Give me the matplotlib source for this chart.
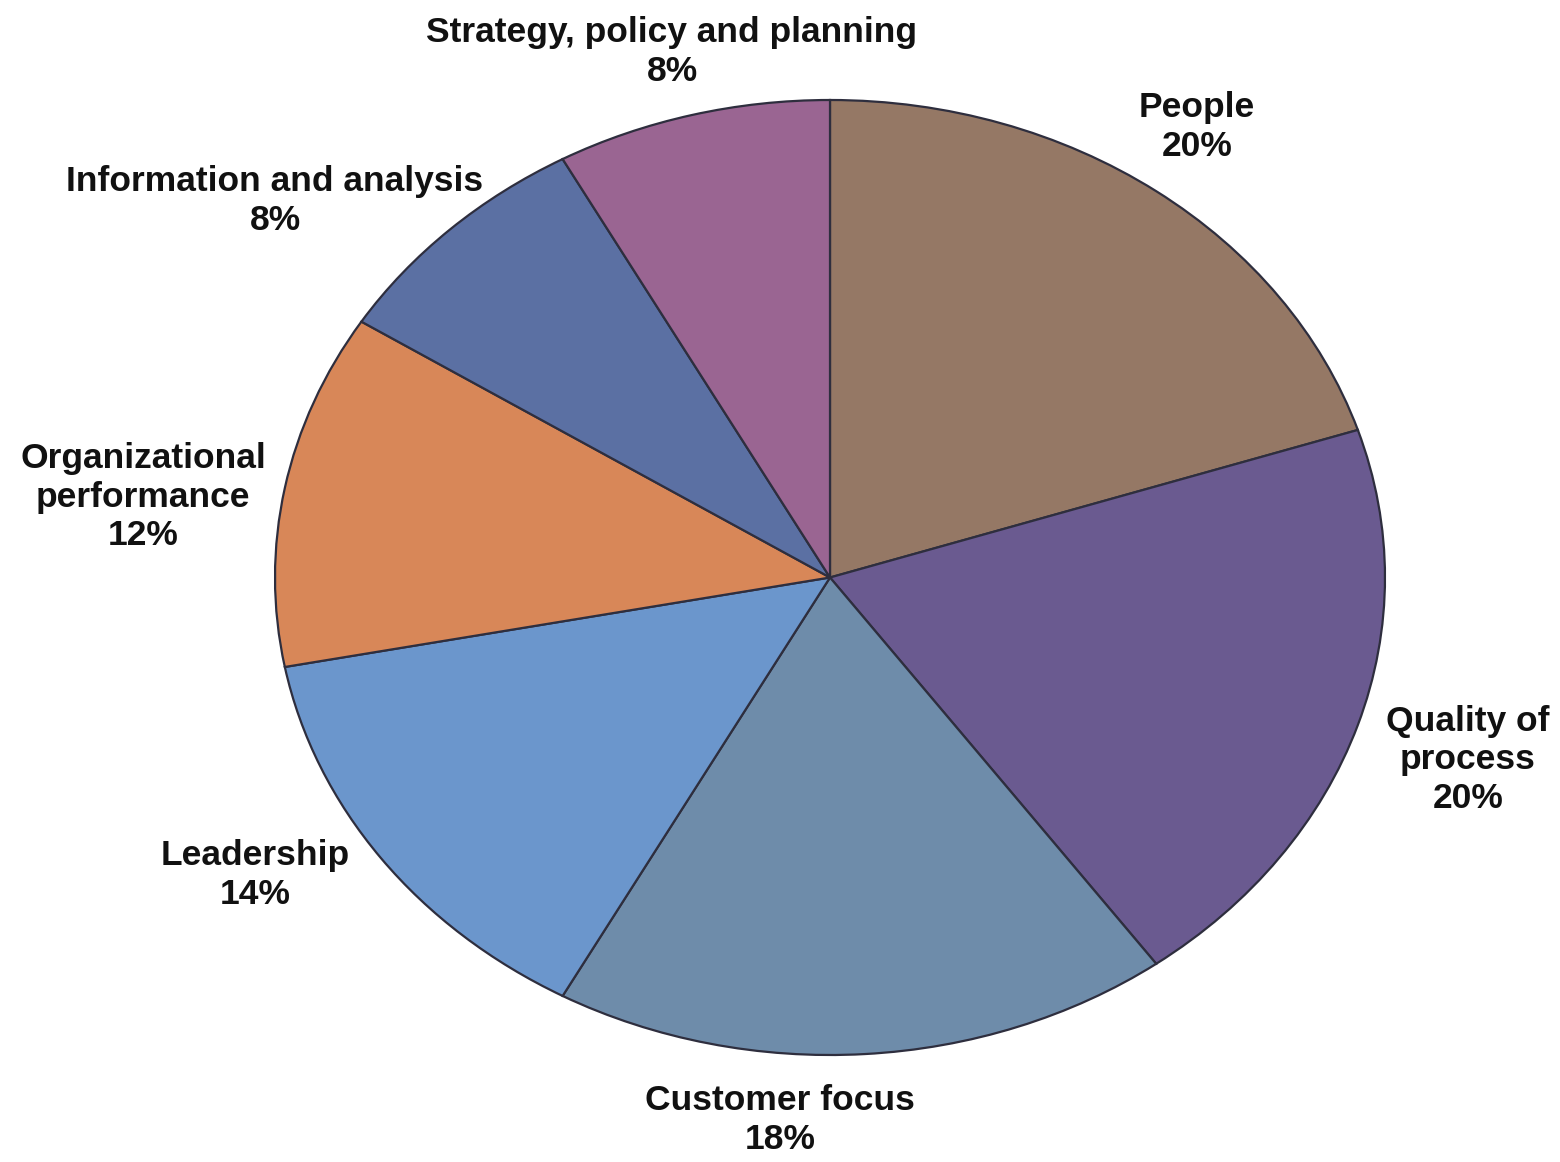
import matplotlib
matplotlib.use("Agg")
import matplotlib.pyplot as plt

categories = ["People", "Quality of\nprocess", "Customer focus", "Leadership",
              "Organizational\nperformance", "Information and analysis",
              "Strategy, policy and planning"]
values = [20, 20, 18, 14, 12, 8, 8]
colors = ["#957865", "#6a5a90", "#6e8caa", "#6b96cc", "#d88758", "#5b70a3", "#9a6592"]

W, H = 1560, 1162
fig = plt.figure(figsize=(W / 100, H / 100), dpi=100)
fig.patch.set_facecolor("white")

# ellipse bounding box in pixels
left, right, top, bottom = 275, 1385, 100, 1055
ax = fig.add_axes([left / W, 1 - bottom / H, (right - left) / W, (bottom - top) / H])
ax.pie(values, colors=colors, startangle=90, counterclock=False,
       wedgeprops=dict(edgecolor="#2e2e3e", linewidth=1.6))
ax.set_aspect("auto")
ax.set_xlim(-1, 1)
ax.set_ylim(-1, 1)
ax.axis("off")

# label positions (pixel centres)
label_pos = [(1197, 127), (1468, 760), (780, 1120), (255, 875),
             (143, 497), (275, 201), (672, 52)]
for cat, v, (px, py) in zip(categories, values, label_pos):
    fig.text(px / W, 1 - py / H, f"{cat}\n{v}%", ha="center", va="center",
             fontsize=25.5, family="Liberation Sans", color="#111111",
             linespacing=1.2, fontweight="bold")

fig.savefig("out.png", dpi=100)
